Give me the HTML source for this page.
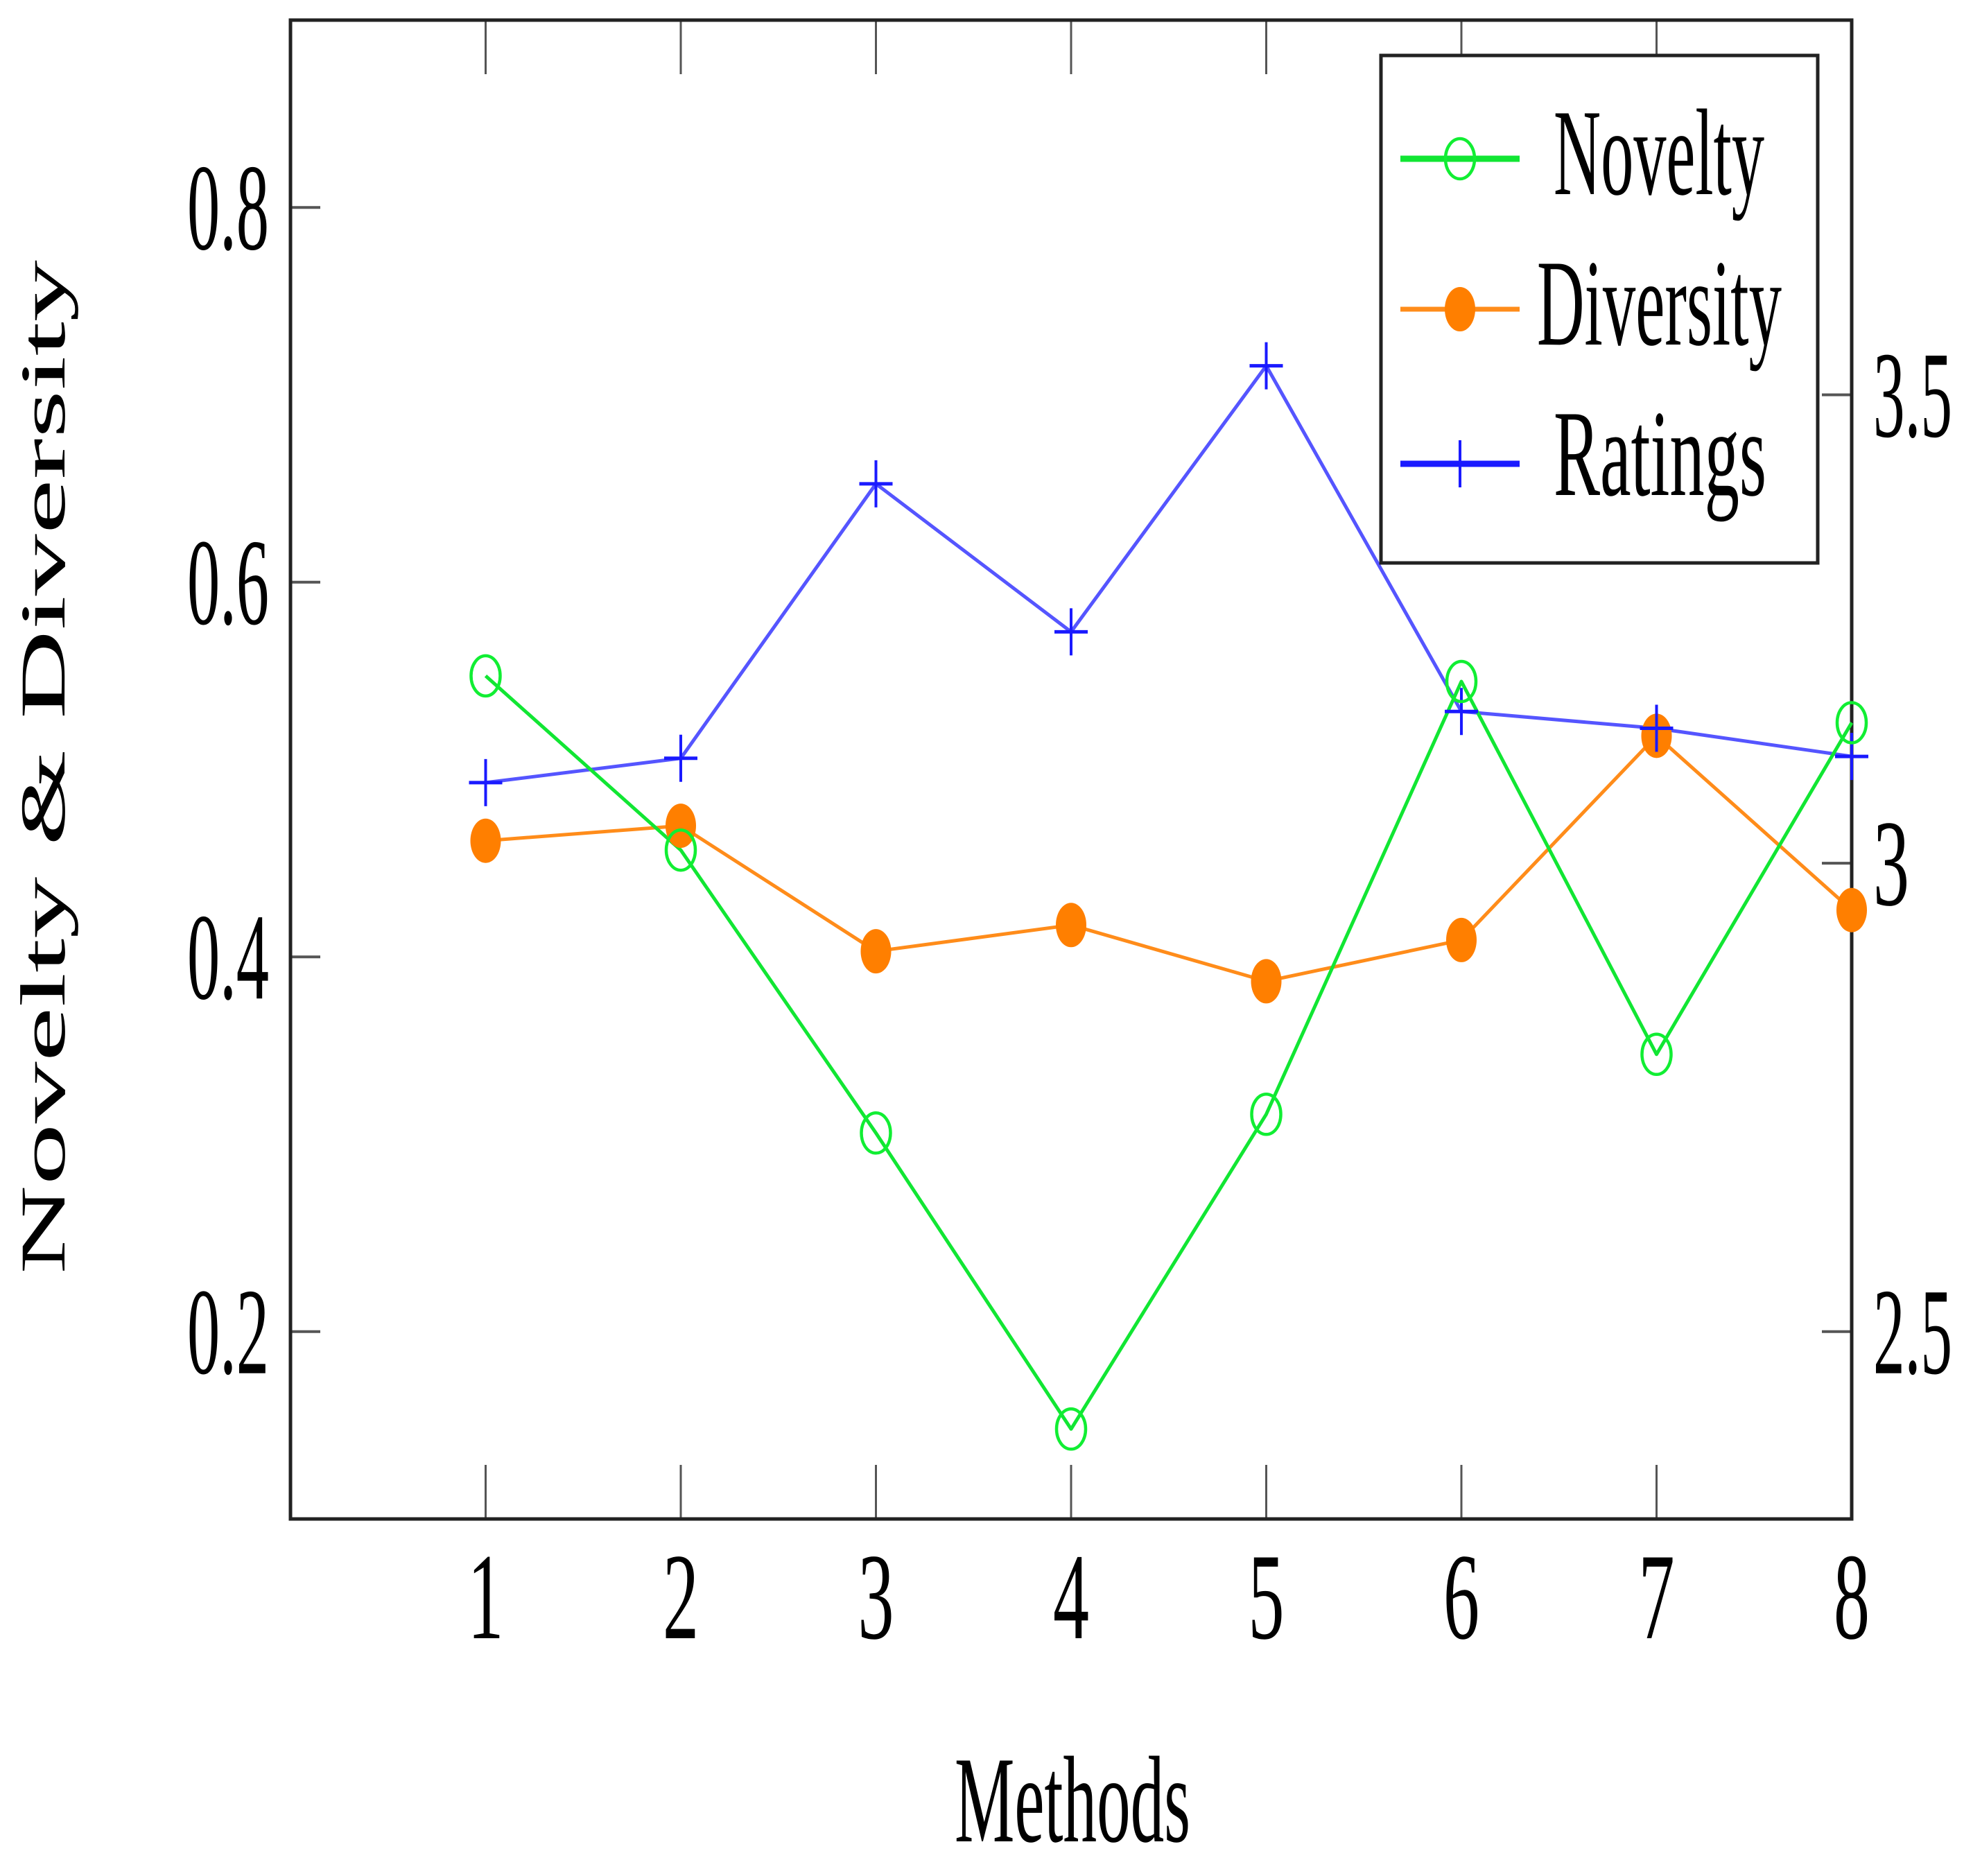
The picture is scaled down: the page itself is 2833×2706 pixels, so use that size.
<!DOCTYPE html>
<html><head><meta charset="utf-8"><style>
html,body{margin:0;padding:0;background:#fff;}
svg{display:block;}
text{font-family:"Liberation Serif",serif;fill:#000;}
</style></head><body>
<svg id="chart" width="2833" height="2706" viewBox="0 0 2833 2706" xmlns="http://www.w3.org/2000/svg">
<g id="grid"></g>
<g id="series"></g>
<g id="legend"></g>
</svg>
<script>
const categories = [1, 2, 3, 4, 5, 6, 7, 8];
const noveltyValues = [0.550, 0.457, 0.306, 0.148, 0.316, 0.547, 0.348, 0.525];
const diversityValues = [0.462, 0.470, 0.403, 0.417, 0.387, 0.409, 0.518, 0.425];
const ratingsValues = [3.086, 3.112, 3.405, 3.247, 3.531, 3.162, 3.144, 3.114];
const leftTicks = [0.2, 0.4, 0.6, 0.8];
const leftTickLabels = ["0.2", "0.4", "0.6", "0.8"];
const rightTicks = [2.5, 3, 3.5];
const rightTickLabels = ["2.5", "3", "3.5"];

const NS = "http://www.w3.org/2000/svg";
const PL = 419, PR = 2671, PT = 29, PB = 2191;
const xMin = 0, xMax = 8, yMin = 0.1, yMax = 0.9, rMin = 2.3, rMax = 3.9;
function xs(v){ return PL + (v - xMin) / (xMax - xMin) * (PR - PL); }
function ys(v){ return PB - (v - yMin) / (yMax - yMin) * (PB - PT); }
function rs(v){ return PB - (v - rMin) / (rMax - rMin) * (PB - PT); }
function mk(tag, attrs, parent){
  const e = document.createElementNS(NS, tag);
  for (const k in attrs) e.setAttribute(k, attrs[k]);
  parent.appendChild(e);
  return e;
}
const grid = document.getElementById('grid');
const series = document.getElementById('series');
const legend = document.getElementById('legend');

// x ticks
categories.forEach((c, i) => {
  const x = xs(c);
  let t1 = mk('line', {x1:x, y1:PB, x2:x, y2:PB-78, stroke:'#555', 'stroke-width':3}, grid);
  
  
  let t2 = mk('line', {x1:x, y1:PT, x2:x, y2:PT+78, stroke:'#555', 'stroke-width':3}, grid);
  
  
  let lb = mk('text', {x:x, y:2363, 'font-size':178, 'text-anchor':'middle', textLength:52, lengthAdjust:'spacingAndGlyphs'}, grid);
  lb.textContent = String(c);
  
  
});
// left ticks
leftTicks.forEach((v, i) => {
  const y = ys(v);
  let t = mk('line', {x1:PL, y1:y, x2:PL+43, y2:y, stroke:'#555', 'stroke-width':4}, grid);
  
  
  let lb = mk('text', {x:388, y:y+60, 'font-size':178, 'text-anchor':'end', textLength:118, lengthAdjust:'spacingAndGlyphs'}, grid);
  lb.textContent = leftTickLabels[i];
  
  
});
// right ticks
rightTicks.forEach((v, i) => {
  const y = rs(v);
  let t = mk('line', {x1:PR, y1:y, x2:PR-43, y2:y, stroke:'#555', 'stroke-width':4}, grid);
  
  
  const lab = rightTickLabels[i];
  let lb = mk('text', {x:2702, y:y+60, 'font-size':178, 'text-anchor':'start', textLength: lab.length > 1 ? 114 : 52, lengthAdjust:'spacingAndGlyphs'}, grid);
  lb.textContent = lab;
  
  
});
// frame
let fr = mk('rect', {x:PL, y:PT, width:PR-PL, height:PB-PT, fill:'none', stroke:'#222', 'stroke-width':5}, grid);


// axis titles
let xt = mk('text', {x:1547, y:2656, 'font-size':178, 'text-anchor':'middle', textLength:340, lengthAdjust:'spacingAndGlyphs'}, grid);
xt.textContent = 'Methods';


let yt = mk('text', {x:0, y:0, 'font-size':92, 'text-anchor':'start', textLength:1463, lengthAdjust:'spacingAndGlyphs', transform:'translate(93,1838) rotate(-90)'}, grid);
yt.textContent = 'Novelty & Diversity';



function polyline(vals, scale, color, w, name){
  const pts = vals.map((v, i) => xs(categories[i]) + ',' + scale(v)).join(' ');
  let p = mk('polyline', {points:pts, fill:'none', stroke:color, 'stroke-width':w, 'stroke-linejoin':'round'}, series);
  
  
}
polyline(ratingsValues, rs, '#5555ff', 5, 'ratings-line');
polyline(diversityValues, ys, '#ff8c1a', 5, 'diversity-line');
polyline(noveltyValues, ys, '#11e633', 5, 'novelty-line');

function novMarker(x, y, parent){
  return mk('ellipse', {cx:x, cy:y, rx:21, ry:29, fill:'none', stroke:'#11ee33', 'stroke-width':4.5}, parent);
}
function divMarker(x, y, parent){
  return mk('ellipse', {cx:x, cy:y, rx:22, ry:32, fill:'#ff7f00'}, parent);
}
function ratMarker(x, y, parent){
  const g = mk('g', {}, parent);
  mk('line', {x1:x-24, y1:y, x2:x+24, y2:y, stroke:'#1a1aff', 'stroke-width':5}, g);
  mk('line', {x1:x, y1:y-34, x2:x, y2:y+34, stroke:'#1a1aff', 'stroke-width':4}, g);
  return g;
}
diversityValues.forEach((v, i) => {
  const m = divMarker(xs(categories[i]), ys(v), series);
  
  
});
ratingsValues.forEach((v, i) => {
  const m = ratMarker(xs(categories[i]), rs(v), series);
  
  
});
noveltyValues.forEach((v, i) => {
  const m = novMarker(xs(categories[i]), ys(v), series);
  
  
});

// legend
let lbx = mk('rect', {x:1992, y:80, width:630, height:732, fill:'#fff', stroke:'#222', 'stroke-width':5}, legend);


const legendItems = [
  {label:'Novelty', y:229, color:'#11e633', w:9, marker:novMarker, tx:2241, tl:304, base:280},
  {label:'Diversity', y:446, color:'#ff8c1a', w:7, marker:divMarker, tx:2217, tl:353, base:497},
  {label:'Ratings', y:669, color:'#1a1aff', w:9, marker:ratMarker, tx:2241, tl:307, base:714}
];
legendItems.forEach(it => {
  const g = mk('g', {}, legend);
  
  
  mk('line', {x1:2020, y1:it.y, x2:2192, y2:it.y, stroke:it.color, 'stroke-width':it.w}, g);
  it.marker(2106, it.y, g);
  const t = mk('text', {x:it.tx, y:it.base, 'font-size':178, textLength:it.tl, lengthAdjust:'spacingAndGlyphs'}, g);
  t.textContent = it.label;
});
</script>
</body></html>
